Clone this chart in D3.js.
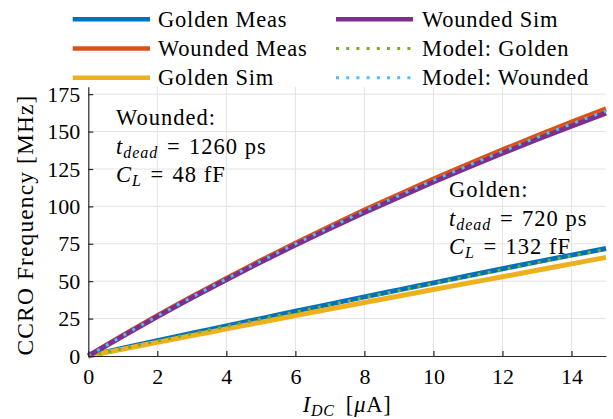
<!DOCTYPE html>
<html>
<head>
<meta charset="utf-8">
<script src="https://cdn.jsdelivr.net/npm/d3@7"></script>
<style>
  body { margin: 0; background: #fff; }
  svg { display: block; }
  svg text { font-family: "Liberation Serif", "Times New Roman", serif; fill: #000; }
</style>
</head>
<body>
<svg id="chart" width="613" height="419"></svg>
<script>
// Bias current (µA) and CCRO frequency (MHz) for each trace
const current      = [0, 1, 2, 3, 4, 5, 6, 7, 8, 9, 10, 11, 12, 13, 14, 15];
const goldenMeas   = [0, 5.2, 10.3, 15.2, 20.1, 25.0, 29.9, 34.7, 39.5, 44.2, 48.9, 53.6, 58.3, 62.9, 67.4, 71.8];
const woundedMeas  = [0, 13.7, 26.9, 39.6, 51.9, 63.8, 75.4, 86.6, 97.5, 108.0, 118.2, 128.1, 137.8, 147.2, 156.3, 165.2];
const goldenSim    = [0, 4.6, 9.1, 13.6, 18.1, 22.6, 27.0, 31.4, 35.8, 40.1, 44.4, 48.7, 53.0, 57.3, 61.6, 65.9];
const woundedSim   = [0, 13.3, 26.3, 38.9, 51.0, 62.8, 74.2, 85.2, 95.9, 106.2, 116.3, 126.0, 135.5, 144.7, 153.6, 162.3];
const modelGolden  = [0, 5.0, 10.0, 14.9, 19.8, 24.7, 29.5, 34.3, 39.1, 43.8, 48.5, 53.2, 57.8, 62.4, 67.0, 71.5];
const modelWounded = [0, 13.5, 26.6, 39.3, 51.5, 63.4, 74.9, 86.0, 96.8, 107.2, 117.4, 127.2, 136.8, 146.1, 155.1, 163.9];

const seriesNames  = ["Golden Meas", "Wounded Meas", "Golden Sim", "Wounded Sim", "Model: Golden", "Model: Wounded"];
const seriesValues = [goldenMeas, woundedMeas, goldenSim, woundedSim, modelGolden, modelWounded];
const seriesColors = ["#0072BD", "#D95319", "#EDB120", "#7E2F8E", "#77AC30", "#4DBEEE"];
const seriesDotted = [false, false, false, false, true, true];

const xTicks = [0, 2, 4, 6, 8, 10, 12, 14];
const yTicks = [0, 25, 50, 75, 100, 125, 150, 175];

const svg = d3.select("#chart");
const W = 613, H = 419;
const plot = { left: 88.3, right: 606, top: 86.7, bottom: 356 };

const x = d3.scaleLinear().domain([0, 15]).range([plot.left, plot.right]);
const y = d3.scaleLinear().domain([0, 180]).range([plot.bottom, plot.top]);

svg.append("rect").attr("width", W).attr("height", H).attr("fill", "#fff");

// grid
const grid = svg.append("g").attr("stroke", "#e3e3e3").attr("stroke-width", 1);
grid.selectAll("line.v").data(xTicks.filter(d => d > 0)).join("line")
  .attr("x1", d => x(d)).attr("x2", d => x(d))
  .attr("y1", plot.top).attr("y2", plot.bottom);
grid.selectAll("line.h").data(yTicks.filter(d => d > 0)).join("line")
  .attr("x1", plot.left).attr("x2", plot.right)
  .attr("y1", d => y(d)).attr("y2", d => y(d));

// traces
const line = d3.line()
  .x((d, i) => x(current[i]))
  .y(d => y(d))
  .curve(d3.curveMonotoneX);

const traces = svg.append("g").attr("fill", "none");
seriesValues.forEach((vals, k) => {
  traces.append("path")
    .attr("d", line(vals))
    .attr("stroke", seriesColors[k])
    .attr("stroke-width", seriesDotted[k] ? 3 : 5)
    .attr("stroke-dasharray", seriesDotted[k] ? "3,7.2" : null)
    .attr("stroke-linecap", "butt")
    .attr("stroke-linejoin", "round");
});

// axes
const fontSize = 22.5;
const subSize = 16;
const spacing = 0.8;
const xAxis = d3.axisBottom(x).tickValues(xTicks).tickFormat(d3.format("d"))
  .tickSizeInner(-5).tickSizeOuter(0).tickPadding(12);
const yAxis = d3.axisLeft(y).tickValues(yTicks).tickFormat(d3.format("d"))
  .tickSizeInner(-5).tickSizeOuter(0).tickPadding(8);

const gx = svg.append("g").attr("transform", `translate(0,${plot.bottom})`).call(xAxis);
const gy = svg.append("g").attr("transform", `translate(${plot.left},0)`).call(yAxis);
[gx, gy].forEach(g => {
  g.attr("font-family", null);
  g.select(".domain").attr("stroke", "#262626").attr("stroke-width", 1.2);
  g.selectAll(".tick line").attr("stroke", "#262626").attr("stroke-width", 1.2);
  g.selectAll(".tick text").attr("font-size", 22).attr("fill", "#000");
});

// axis titles
svg.append("text")
  .attr("transform", "translate(33.3,225) rotate(-90)")
  .attr("text-anchor", "middle")
  .attr("font-size", 23.5)
  .attr("letter-spacing", 1.1)
  .text("CCRO Frequency [MHz]");

const xt = svg.append("text")
  .attr("x", (plot.left + plot.right) / 2).attr("y", 412)
  .attr("text-anchor", "middle")
  .attr("font-size", fontSize)
  .attr("letter-spacing", spacing);
xt.append("tspan").attr("font-style", "italic").text("I");
xt.append("tspan").attr("font-style", "italic").attr("font-size", subSize).attr("dy", 4).text("DC");
xt.append("tspan").attr("dy", -4).attr("dx", 11).text("[");
xt.append("tspan").attr("font-style", "italic").text("\u03BC");
xt.append("tspan").text("A]");

// parameter annotations
function annotate(x0, y0, title, tdead, cl) {
  const step = 28.5;
  const eq = "\u2004=\u2004";
  const ls = 1.0;
  svg.append("text").attr("x", x0).attr("y", y0)
    .attr("font-size", fontSize).attr("letter-spacing", ls).text(title);
  const t1 = svg.append("text").attr("x", x0).attr("y", y0 + step)
    .attr("font-size", fontSize).attr("letter-spacing", ls);
  t1.append("tspan").attr("font-style", "italic").text("t");
  t1.append("tspan").attr("font-style", "italic").attr("font-size", subSize).attr("dy", 4).text("dead");
  t1.append("tspan").attr("dy", -4).text(eq + tdead);
  const t2 = svg.append("text").attr("x", x0).attr("y", y0 + 2 * step)
    .attr("font-size", fontSize).attr("letter-spacing", ls);
  t2.append("tspan").attr("font-style", "italic").text("C");
  t2.append("tspan").attr("font-style", "italic").attr("font-size", subSize).attr("dy", 4).text("L");
  t2.append("tspan").attr("dy", -4).text(eq + cl);
}
annotate(116, 125, "Wounded:", "1260 ps", "48 fF");
annotate(449, 197, "Golden:", "720 ps", "132 fF");

// legend
const legend = svg.append("g");
legend.append("rect").attr("x", 60).attr("y", 0).attr("width", 548).attr("height", plot.top - 0.5).attr("fill", "#fff");
const legendCols = [{ x0: 72.7, x1: 150, tx: 158 }, { x0: 336, x1: 413, tx: 422 }];
const legendRows = [19.3, 48.5, 77.7];
seriesNames.forEach((name, k) => {
  const col = legendCols[Math.floor(k / 3)];
  const ry = legendRows[k % 3];
  legend.append("line")
    .attr("x1", col.x0).attr("x2", col.x1).attr("y1", ry).attr("y2", ry)
    .attr("stroke", seriesColors[k])
    .attr("stroke-width", seriesDotted[k] ? 3 : 4.5)
    .attr("stroke-dasharray", seriesDotted[k] ? "3,7.2" : null);
  legend.append("text")
    .attr("x", col.tx).attr("y", ry + 7.5)
    .attr("font-size", fontSize)
    .attr("letter-spacing", spacing)
    .text(name);
});
</script>
</body>
</html>
